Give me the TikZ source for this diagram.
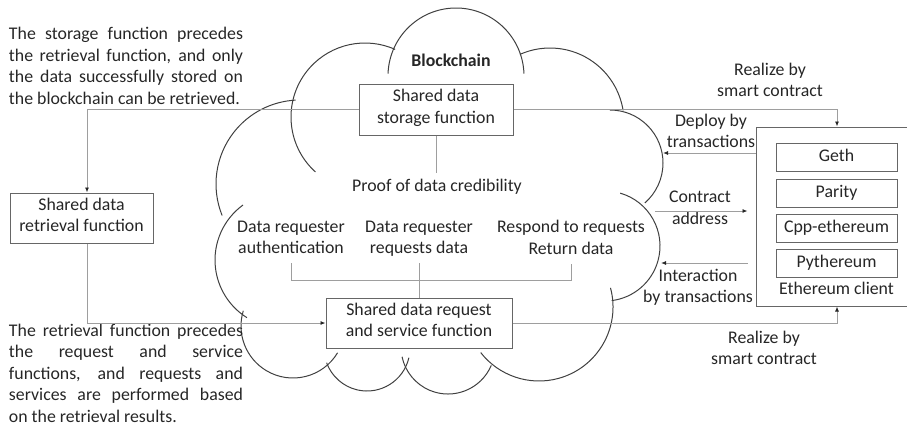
\documentclass[tikz,border=0pt]{standalone}
\usepackage{fontspec}
\setmainfont{Carlito}
\usetikzlibrary{arrows.meta}

\begin{document}
\begin{tikzpicture}[x=1pt, y=-1pt,
        txt/.style = {font=\fontsize{17.8pt}{21.6pt}\selectfont, text=black!85, align=center, inner sep=3pt,
                      execute at begin node=\strut, execute at end node=\strut},
        para/.style = {txt, text width=234pt, align=justify, inner sep=0pt},
        box/.style = {txt, draw=black!60, line width=1pt, fill=white, inner sep=0pt},
        cloudline/.style = {draw=black!75, line width=1pt},
        conn/.style = {draw=black!38, line width=0.9pt},
        arr/.style = {conn, -{Latex[length=5pt, width=4pt, black!85]}}]

        \useasboundingbox (0,0) rectangle (907,434);
        \clip (0,0) rectangle (907,434);

        % cloud lobes: centre x / centre y / radius / start / end
        \foreach \cx/\cy/\r/\a/\b in {365/117/74/132/294, 456/76/68/182/358, 550/122/74/246/351,
                610/163/53/270/409, 605/246/55/286/443, 539/307/74/-15/142, 448/347/47/23/168,
                367/348/43/13/160, 293/326/52/31/197, 283/260/68/234/122, 300/184/84/158/267}
        \draw[cloudline] ([shift={(\a:\r)}]\cx,\cy) arc[start angle=\a, end angle=\b, radius=\r];

        \node[txt] (chain) at (451,62) {\textbf{Blockchain}};

        % function boxes
        \node[box, minimum width=154pt, minimum height=51pt] (storage) at (436,109.5) {Shared data\\storage function};
        \node[box, minimum width=143pt, minimum height=50pt] (retrieval) at (81.5,218) {Shared data\\retrieval function};
        \node[box, minimum width=186pt, minimum height=50pt] (request) at (419,323) {Shared data request\\and service function};

        % ethereum client
        \node[box, minimum width=162pt, minimum height=179pt] (client) at (837,216.5) {};
        \foreach \n/\t/\y in {geth/Geth/157.5, parity/Parity/193.5, cpp/Cpp-ethereum/228, pyth/Pythereum/263}
        \node[box, minimum width=121pt, minimum height=28pt] (\n) at (836.5,\y) {\t};
        \node[txt] (eclient) at (836.5,290) {Ethereum client};

        % labels in the cloud
        \node[txt] (proof) at (437,187) {Proof of data credibility};
        \node[txt] (auth) at (291,240.5) {Data requester\\authentication};
        \node[txt] (reqs) at (419,240.5) {Data requester\\requests data};
        \node[txt] (resp) at (571,240.5) {Respond to requests\\Return data};

        % labels on the right
        \node[txt] (realtop) at (770,83) {Realize by\\smart contract};
        \node[txt] (deploy) at (711,134) {Deploy by\\transactions};
        \node[txt] (contract) at (700,211) {Contract\\address};
        \node[txt] (inter) at (698,289) {Interaction\\by transactions};
        \node[txt] (realbot) at (764,351) {Realize by\\smart contract};

        % notes
        \node[para] (notetop) at (126,67.5) {The storage function precedes\linebreak the retrieval function, and only\linebreak the data successfully stored on\linebreak the blockchain can be retrieved.};
        \node[para] (notebot) at (126,375) {The retrieval function precedes\linebreak the request and service\linebreak functions, and requests and\linebreak services are performed based\linebreak on the retrieval results.};

        % connectors
        \draw[arr] (storage.west) -| ([xshift=5.5pt]retrieval.north);
        \draw[arr] ([xshift=5.5pt]retrieval.south) |- (request.west);
        \draw[arr] (storage.east) -| (client.north);
        \draw[arr] (request.east) -| (client.south);
        \draw[conn] (storage.south) -- (storage.south |- proof.north);
        \draw[conn] (auth.south) -- ++(0,17) -| (resp.south);
        \draw[conn] (reqs.south) -- (reqs.south |- request.north);

        \coordinate (dep) at (663,153);
        \coordinate (ca) at (655,211);
        \coordinate (ia) at (661,263);
        \draw[arr] (client.west |- dep) -- (dep);
        \draw[arr] (ca) -- ([xshift=-8pt]client.west |- ca);
        \draw[arr] ([xshift=-8pt]client.west |- ia) -- (ia);

    \end{tikzpicture}
\end{document}
